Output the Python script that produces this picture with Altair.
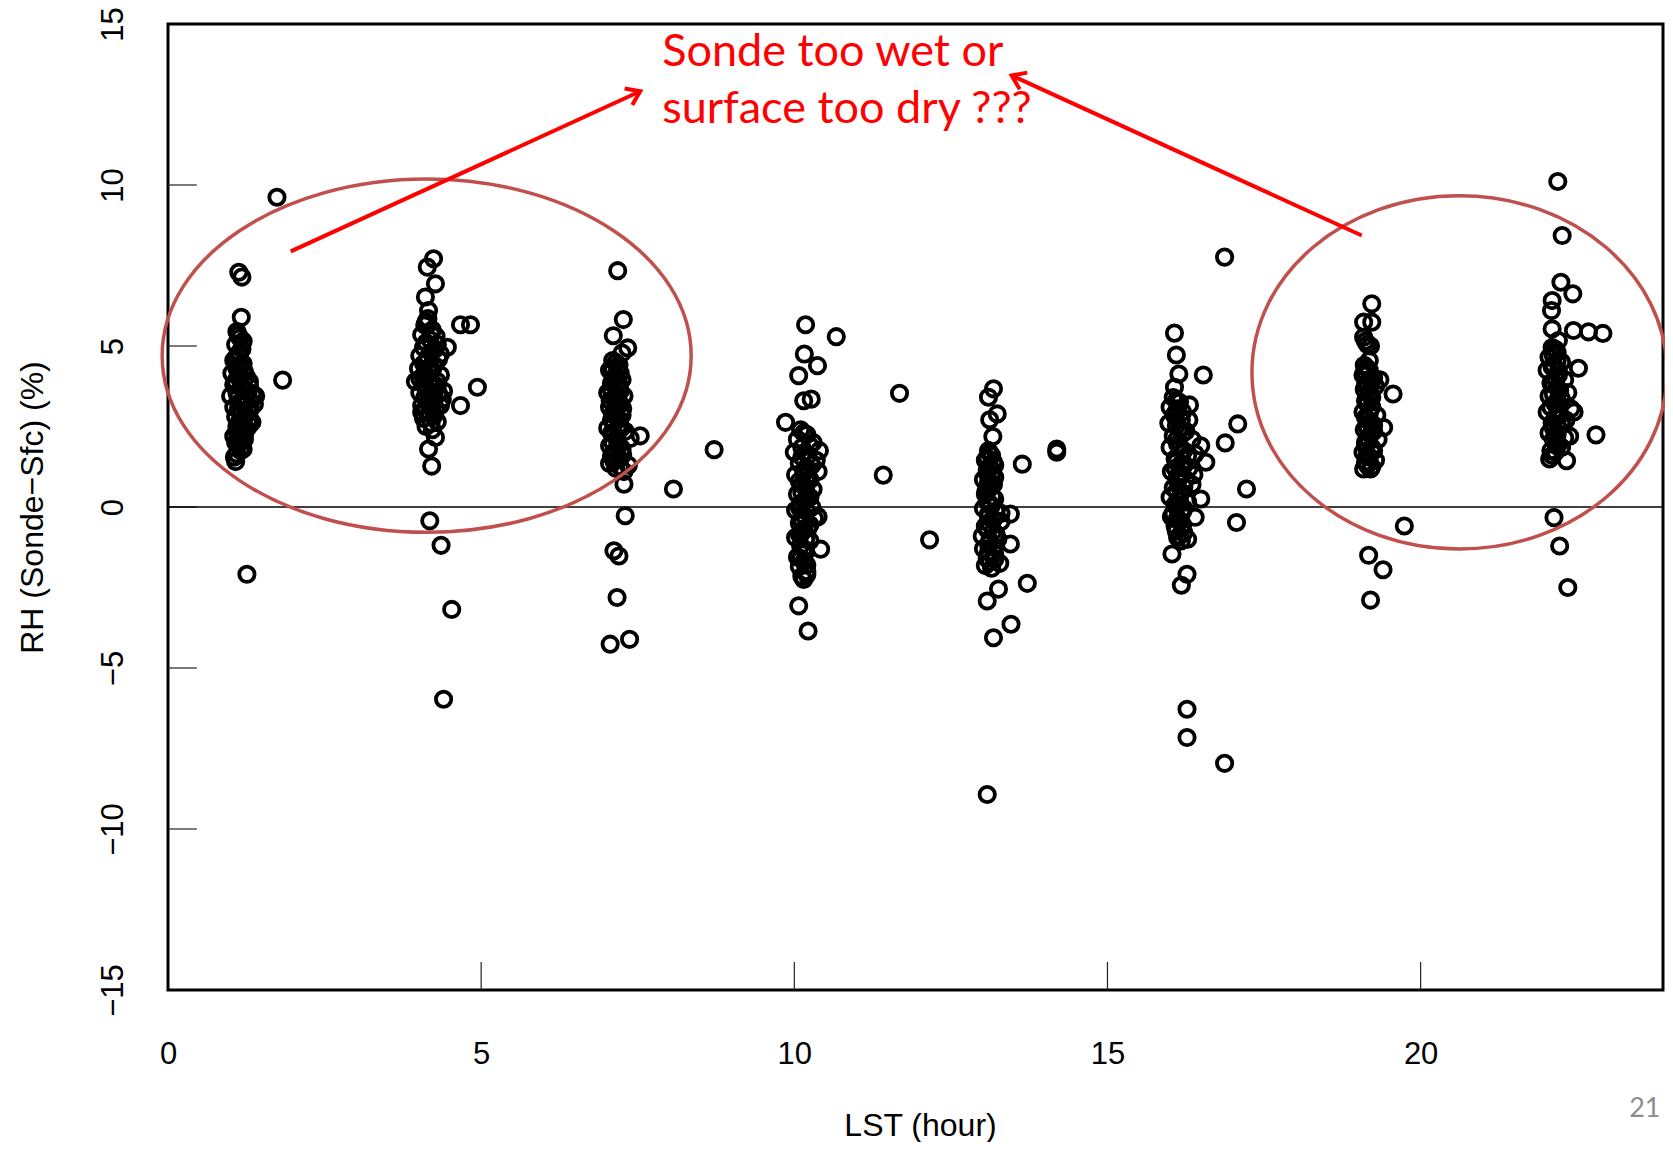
import altair as alt
import pandas as pd

# ---- data: (LST hour, RH Sonde-Sfc %) ----
cluster_01h = [(1.74, 9.62), (1.13, 7.29), (1.18, 7.14), (1.17, 5.89), (1.83, 3.94), (1.34, 2.63),
               (1.08, 1.41), (1.26, -2.09),
               (1.10, 5.45), (1.15, 5.25), (1.08, 5.05), (1.18, 4.90), (1.12, 4.70), (1.05, 4.55),
               (1.20, 4.45), (1.10, 4.30), (1.02, 4.15), (1.25, 4.05), (1.15, 3.95), (1.05, 3.80),
               (1.30, 3.75), (1.20, 3.65), (1.10, 3.55), (1.35, 3.50), (1.00, 3.45), (1.25, 3.35),
               (1.15, 3.25), (1.38, 3.20), (1.05, 3.10), (1.28, 3.00), (1.18, 2.90), (1.08, 2.80),
               (1.30, 2.75), (1.20, 2.60), (1.10, 2.50), (1.25, 2.40), (1.15, 2.30), (1.05, 2.20),
               (1.22, 2.10), (1.12, 1.95), (1.20, 1.80), (1.10, 1.65), (1.30, 3.90), (1.40, 3.45),
               (1.12, 4.10), (1.22, 2.25), (1.32, 3.05),
               (1.12, 5.35), (1.20, 5.15), (1.14, 4.80), (1.08, 4.62), (1.16, 4.38), (1.22, 4.20),
               (1.08, 3.90), (1.18, 3.72), (1.28, 3.58), (1.12, 3.40), (1.22, 3.15), (1.12, 3.02),
               (1.24, 2.85), (1.14, 2.65), (1.18, 2.45), (1.30, 2.55), (1.10, 2.35), (1.16, 2.15),
               (1.08, 2.00), (1.16, 1.75), (1.06, 1.55)]
cluster_04h = [(4.24, 7.71), (4.14, 7.45), (4.27, 6.93), (4.11, 6.52), (4.16, 6.10), (4.67, 5.66),
               (4.83, 5.66), (4.46, 4.96), (4.94, 3.72), (4.67, 3.15), (4.27, 2.16), (4.16, 1.80),
               (4.21, 1.27), (4.18, -0.43), (4.36, -1.19), (4.53, -3.18), (4.40, -5.97),
               (4.15, 5.85), (4.10, 5.65), (4.22, 5.50), (4.05, 5.35), (4.18, 5.20), (4.30, 5.05),
               (4.08, 4.95), (4.20, 4.80), (4.02, 4.70), (4.32, 4.60), (4.12, 4.50), (4.25, 4.40),
               (4.00, 4.30), (4.18, 4.20), (4.35, 4.10), (4.08, 4.00), (3.95, 3.90), (4.22, 3.85),
               (4.30, 3.75), (4.12, 3.65), (4.02, 3.55), (4.25, 3.45), (4.38, 3.35), (4.15, 3.25),
               (4.05, 3.15), (4.28, 3.05), (4.18, 2.90), (4.08, 2.75), (4.30, 2.65), (4.12, 2.50),
               (4.22, 2.40), (4.40, 3.60), (4.35, 4.75), (4.10, 4.15), (4.28, 5.30),
               (4.12, 5.75), (4.20, 5.40), (4.12, 5.10), (4.26, 4.90), (4.15, 4.65), (4.08, 4.45),
               (4.22, 4.25), (4.12, 4.08), (4.02, 3.98), (4.18, 3.95), (4.30, 3.90), (4.10, 3.80),
               (4.20, 3.58), (4.32, 3.52), (4.10, 3.40), (4.22, 3.20), (4.12, 3.00), (4.25, 2.85),
               (4.20, 2.60), (4.05, 2.95), (4.35, 3.15)]
cluster_07h = [(7.18, 7.34), (7.27, 5.82), (7.11, 5.32), (7.34, 4.94), (7.25, 4.78), (7.38, 2.13),
               (7.28, 0.71), (7.30, -0.27), (7.12, -1.36), (7.20, -1.52), (7.17, -2.81), (7.06, -4.26),
               (7.37, -4.11), (8.07, 0.56), (8.72, 1.78), (7.54, 2.21),
               (7.10, 4.55), (7.20, 4.40), (7.05, 4.25), (7.15, 4.10), (7.25, 3.95), (7.08, 3.85),
               (7.18, 3.70), (7.02, 3.55), (7.28, 3.45), (7.12, 3.35), (7.22, 3.20), (7.05, 3.10),
               (7.15, 2.95), (7.25, 2.85), (7.08, 2.70), (7.20, 2.55), (7.02, 2.45), (7.30, 2.35),
               (7.12, 2.25), (7.18, 2.05), (7.05, 1.90), (7.25, 1.80), (7.10, 1.65), (7.20, 1.50),
               (7.05, 1.35), (7.15, 1.20), (7.28, 1.10), (7.35, 1.30), (7.22, 3.60), (7.12, 4.00),
               (7.15, 4.48), (7.10, 4.30), (7.22, 4.15), (7.12, 3.95), (7.20, 3.80), (7.08, 3.62),
               (7.18, 3.48), (7.06, 3.30), (7.16, 3.15), (7.26, 3.05), (7.10, 2.88), (7.20, 2.72),
               (7.12, 2.60), (7.24, 2.45), (7.08, 2.30), (7.16, 2.15), (7.10, 2.00), (7.20, 1.92),
               (7.14, 1.75), (7.08, 1.58), (7.26, 1.62), (7.12, 1.42), (7.22, 1.25)]
cluster_10h = [(10.18, 5.66), (10.67, 5.29), (10.16, 4.75), (10.37, 4.39), (10.07, 4.08), (10.27, 3.35),
               (10.15, 3.30), (9.86, 2.63), (11.68, 3.53), (11.42, 0.99), (12.16, -1.02), (10.42, -1.31),
               (10.07, -3.07), (10.22, -3.85),
               (10.10, 2.40), (10.20, 2.25), (10.05, 2.10), (10.30, 2.00), (10.12, 1.85), (10.00, 1.70),
               (10.22, 1.60), (10.35, 1.45), (10.08, 1.35), (10.18, 1.20), (10.38, 1.10), (10.02, 1.00),
               (10.25, 0.85), (10.12, 0.70), (10.30, 0.55), (10.05, 0.40), (10.20, 0.25), (10.10, 0.10),
               (10.28, 0.00), (10.02, -0.10), (10.15, -0.25), (10.32, -0.35), (10.08, -0.50),
               (10.22, -0.65), (10.12, -0.80), (10.02, -0.95), (10.25, -1.05), (10.10, -1.20),
               (10.18, -1.40), (10.05, -1.55), (10.15, -1.70), (10.08, -1.85), (10.20, -2.00),
               (10.12, -2.15), (10.20, -2.10), (10.38, -0.30), (10.40, 1.75),
               (10.15, 2.30), (10.25, 1.90), (10.12, 1.55), (10.28, 1.30), (10.15, 1.05), (10.20, 0.95),
               (10.08, 0.80), (10.18, 0.60), (10.12, 0.45), (10.25, 0.30), (10.15, 0.18), (10.08, -0.02),
               (10.20, -0.15), (10.12, -0.40), (10.25, -0.55), (10.15, -0.70), (10.08, -0.85),
               (10.18, -1.00), (10.15, -1.30), (10.10, -1.60), (10.20, -1.80), (10.15, -2.25)]
cluster_13h = [(13.18, 3.67), (13.10, 3.41), (13.24, 2.89), (13.12, 2.71), (13.17, 2.19), (13.64, 1.33),
               (14.19, 1.80), (14.19, 1.70), (13.45, -0.22), (13.45, -1.15), (13.72, -2.37),
               (13.26, -2.55), (13.08, -2.92), (13.46, -3.64), (13.18, -4.06), (13.08, -8.93),
               (13.10, 1.75), (13.15, 1.60), (13.05, 1.45), (13.20, 1.30), (13.08, 1.15), (13.15, 1.00),
               (13.02, 0.85), (13.18, 0.70), (13.10, 0.55), (13.05, 0.40), (13.20, 0.25), (13.12, 0.10),
               (13.02, -0.05), (13.22, -0.15), (13.10, -0.30), (13.30, -0.45), (13.05, -0.60),
               (13.18, -0.75), (13.00, -0.90), (13.25, -1.00), (13.10, -1.15), (13.02, -1.30),
               (13.20, -1.45), (13.08, -1.60), (13.28, -1.75), (13.15, -1.90), (13.12, -1.70),
               (13.30, -0.20),
               (13.12, 1.68), (13.08, 1.52), (13.18, 1.40), (13.12, 1.25), (13.08, 1.05), (13.20, 0.92),
               (13.10, 0.78), (13.14, 0.62), (13.06, 0.48), (13.16, 0.32), (13.08, 0.18), (13.14, 0.02),
               (13.10, -0.22), (13.18, -0.38), (13.12, -0.52), (13.08, -0.70), (13.22, -0.85),
               (13.12, -1.05), (13.18, -1.25), (13.10, -1.40), (13.20, -1.62), (13.05, -1.82)]
cluster_16h = [(16.07, 5.40), (16.10, 4.72), (16.14, 4.13), (16.07, 3.72), (16.53, 4.10), (16.31, 3.17),
               (17.08, 2.58), (16.88, 1.99), (17.22, 0.56), (17.06, -0.48), (16.40, -0.32), (16.03, -1.46),
               (16.27, -2.09), (16.18, -2.43), (16.27, -6.28), (16.27, -7.16), (16.87, -7.96),
               (16.87, 7.76), (16.49, 1.90), (16.57, 1.39), (16.49, 0.25),
               (16.05, 3.40), (16.15, 3.25), (16.00, 3.10), (16.20, 2.95), (16.08, 2.80), (16.30, 2.70),
               (15.98, 2.60), (16.15, 2.45), (16.25, 2.35), (16.05, 2.20), (16.35, 2.10), (16.12, 1.95),
               (16.00, 1.85), (16.22, 1.75), (16.40, 1.65), (16.08, 1.50), (16.18, 1.35), (16.30, 1.20),
               (16.02, 1.10), (16.12, 0.95), (16.25, 0.85), (16.35, 0.70), (16.05, 0.60), (16.18, 0.45),
               (16.00, 0.30), (16.28, 0.15), (16.10, 0.00), (16.20, -0.15), (16.02, -0.30),
               (16.15, -0.45), (16.08, -0.60), (16.22, -0.80), (16.12, -0.95), (16.18, -1.05),
               (16.28, -1.00), (16.05, -0.20), (16.38, 1.00),
               (16.10, 3.30), (16.12, 3.05), (16.08, 2.90), (16.18, 2.70), (16.10, 2.52), (16.20, 2.28),
               (16.10, 2.08), (16.15, 1.88), (16.28, 1.60), (16.10, 1.40), (16.22, 1.28), (16.08, 1.20),
               (16.18, 1.02), (16.12, 0.80), (16.22, 0.62), (16.10, 0.48), (16.15, 0.20), (16.08, 0.08),
               (16.22, -0.05), (16.12, -0.35), (16.20, -0.55), (16.10, -0.75), (16.15, -0.90)]
cluster_19h = [(19.22, 6.31), (19.09, 5.74), (19.22, 5.74), (19.09, 5.27), (19.56, 3.51), (19.41, 2.47),
               (19.09, 1.18), (19.20, 1.18), (19.74, -0.59), (19.17, -1.50), (19.40, -1.95), (19.20, -2.89),
               (19.12, 5.15), (19.20, 5.00), (19.10, 4.40), (19.18, 4.25), (19.08, 4.10), (19.25, 4.00),
               (19.15, 3.85), (19.28, 3.75), (19.10, 3.65), (19.20, 3.50), (19.12, 3.30), (19.22, 3.10),
               (19.08, 2.95), (19.30, 2.85), (19.15, 2.70), (19.25, 2.55), (19.10, 2.40), (19.20, 2.25),
               (19.32, 2.10), (19.12, 2.00), (19.22, 1.85), (19.08, 1.70), (19.18, 1.55), (19.28, 1.45),
               (19.15, 1.30), (19.35, 3.95),
               (19.15, 5.05), (19.18, 4.55), (19.14, 4.32), (19.12, 4.18), (19.20, 3.95), (19.12, 3.78),
               (19.18, 3.58), (19.22, 3.40), (19.15, 3.20), (19.18, 2.90), (19.12, 2.78), (19.20, 2.62),
               (19.15, 2.48), (19.25, 2.35), (19.15, 2.15), (19.12, 1.90), (19.25, 1.75), (19.15, 1.62),
               (19.12, 1.40), (19.22, 1.25)]
cluster_22h = [(22.19, 10.11), (22.26, 8.43), (22.24, 6.98), (22.43, 6.62), (22.10, 6.41), (22.09, 6.10),
               (22.10, 5.53), (22.44, 5.48), (22.68, 5.44), (22.91, 5.39), (22.20, 5.17), (22.52, 4.31),
               (22.80, 2.24), (22.06, 1.49), (22.33, 1.44), (22.13, -0.33), (22.22, -1.21), (22.35, -2.50),
               (22.10, 4.95), (22.18, 4.80), (22.05, 4.65), (22.25, 4.50), (22.12, 4.40), (22.02, 4.25),
               (22.20, 4.10), (22.30, 3.95), (22.08, 3.85), (22.18, 3.70), (22.35, 3.55), (22.05, 3.45),
               (22.25, 3.35), (22.15, 3.20), (22.40, 3.05), (22.02, 2.95), (22.22, 2.85), (22.32, 2.70),
               (22.10, 2.60), (22.45, 2.95), (22.20, 2.45), (22.05, 2.30), (22.30, 2.15), (22.15, 2.00),
               (22.25, 1.85), (22.08, 1.75), (22.38, 2.20),
               (22.15, 4.90), (22.12, 4.70), (22.18, 4.55), (22.10, 4.35), (22.20, 4.22), (22.15, 4.00),
               (22.12, 3.80), (22.22, 3.62), (22.12, 3.50), (22.18, 3.30), (22.08, 3.10), (22.20, 3.00),
               (22.15, 2.78), (22.25, 2.60), (22.12, 2.45), (22.18, 2.25), (22.12, 2.10), (22.20, 1.95),
               (22.15, 1.70), (22.10, 1.60)]

x_label_values = [0, 5, 10, 15, 20]
y_label_values = [-15, -10, -5, 0, 5, 10, 15]
x_inner_ticks = [5, 10, 15, 20]
y_inner_ticks = [-10, -5, 0, 5, 10]

# annotations (data units)
ellipse_left = {"hour": [4.13], "rh_diff": [4.70]}
ellipse_right = {"hour": [20.62], "rh_diff": [4.18]}
arrow_start_hour = [1.96, 19.06]
arrow_start_rh = [7.94, 8.43]
arrow_end_hour = [7.54, 13.47]
arrow_end_rh = [12.91, 13.40]
arrow_angle = [335.4, 204.4]
note_lines = ["Sonde too wet or", "surface too dry ???"]
note_hour = [7.89, 7.89]
note_rh = [13.71, 11.91]
slide_number = ["21"]

# ---- build chart ----
W, H = 1495, 966
FONT = "Liberation Sans"
xs = alt.Scale(domain=[0, 23.87], nice=False, zero=False)
ys = alt.Scale(domain=[-15, 15], nice=False, zero=False)

pts = pd.DataFrame(cluster_01h + cluster_04h + cluster_07h + cluster_10h + cluster_13h
                   + cluster_16h + cluster_19h + cluster_22h, columns=["hour", "rh_diff"])

x_axis = alt.Axis(values=x_label_values, title="LST (hour)", grid=False, ticks=False, tickSize=0,
                  domain=False, labelFont=FONT, labelFontSize=31, labelColor="black",
                  labelPadding=73, labelBaseline="alphabetic", labelFlush=False, labelOverlap=False,
                  titleFont=FONT, titleFontSize=32, titleFontWeight="normal", titleColor="black",
                  titleBaseline="alphabetic", titleAlign="center", titleX=752, titleY=145)
y_axis = alt.Axis(values=y_label_values, title="RH (Sonde\u2212Sfc) (%)", grid=False, ticks=False,
                  tickSize=0, domain=False, labelFont=FONT, labelFontSize=31, labelColor="black",
                  labelAngle=270, labelAlign="center", labelBaseline="alphabetic", labelPadding=46,
                  labelFlush=False, labelOverlap=False,
                  titleFont=FONT, titleFontSize=32, titleFontWeight="normal", titleColor="black",
                  titleAngle=270, titleAlign="center", titleBaseline="alphabetic",
                  titleX=-126, titleY=H / 2)


def X(field):
    return alt.X(field, scale=xs, axis=x_axis)


def Y(field):
    return alt.Y(field, scale=ys, axis=y_axis)


point_layer = alt.Chart(pts).mark_point(filled=False, color="black", size=235, strokeWidth=3.8,
                                        opacity=1).encode(x=X("hour:Q"), y=Y("rh_diff:Q"))

xt = pd.DataFrame({"hour": x_inner_ticks, "y0": [-15.0] * 4, "y1": [-14.13] * 4})
xtick_layer = alt.Chart(xt).mark_rule(color="#222222", strokeWidth=1.2).encode(
    x=X("hour:Q"), y=Y("y0:Q"), y2="y1:Q")

yt = pd.DataFrame({"rh_diff": y_inner_ticks, "x0": [0.0] * 5, "x1": [0.46] * 5})
ytick_layer = alt.Chart(yt).mark_rule(color="#222222", strokeWidth=1.2).encode(
    y=Y("rh_diff:Q"), x=X("x0:Q"), x2="x1:Q")

zero_layer = alt.Chart(pd.DataFrame({"rh_diff": [0]})).mark_rule(color="black", strokeWidth=1.3).encode(
    y=Y("rh_diff:Q"))

ell_l = alt.Chart(pd.DataFrame(ellipse_left)).mark_point(
    shape="M -1,0 A 1,0.668 0 1,1 1,0 A 1,0.668 0 1,1 -1,0 Z",
    size=529 ** 2, filled=False, color="#C0504D", strokeWidth=3.5, opacity=1).encode(
    x=X("hour:Q"), y=Y("rh_diff:Q"))
ell_r = alt.Chart(pd.DataFrame(ellipse_right)).mark_point(
    shape="M -1,0 A 1,0.851 0 1,1 1,0 A 1,0.851 0 1,1 -1,0 Z",
    size=415 ** 2, filled=False, color="#C0504D", strokeWidth=3.5, opacity=1).encode(
    x=X("hour:Q"), y=Y("rh_diff:Q"))

arrows = pd.DataFrame({"hour": arrow_start_hour, "rh_diff": arrow_start_rh,
                       "hour_end": arrow_end_hour, "rh_end": arrow_end_rh, "angle": arrow_angle})
shaft_layer = alt.Chart(arrows).mark_rule(color="#FF0000", strokeWidth=4).encode(
    x=X("hour:Q"), y=Y("rh_diff:Q"), x2="hour_end:Q", y2="rh_end:Q")
head_layer = alt.Chart(arrows).mark_point(shape="M -1,-0.7 L 0,0 L -1,0.7", filled=False,
                                          color="#FF0000", strokeWidth=4, size=676, opacity=1,
                                          strokeJoin="miter").encode(
    x=X("hour_end:Q"), y=Y("rh_end:Q"), angle=alt.Angle("angle:Q", scale=None))

notes = pd.DataFrame({"hour": note_hour, "rh_diff": note_rh, "text": note_lines})
note_layer = alt.Chart(notes).mark_text(align="left", baseline="alphabetic", font="Lato",
                                        fontSize=45, color="#FF0000").encode(
    x=X("hour:Q"), y=Y("rh_diff:Q"), text="text:N")

page = pd.DataFrame({"hour": [23.33], "rh_diff": [-18.94], "text": slide_number})
page_layer = alt.Chart(page).mark_text(align="left", baseline="alphabetic", font="Lato",
                                       fontSize=27, color="#8C8C8C").encode(
    x=X("hour:Q"), y=Y("rh_diff:Q"), text="text:N")

chart = alt.layer(
    point_layer, xtick_layer, ytick_layer, zero_layer, ell_l, ell_r,
    shaft_layer, head_layer, note_layer, page_layer
).properties(
    width=W, height=H,
    autosize=alt.AutoSizeParams(type="none"),
    padding={"left": 160, "top": 16, "right": 2, "bottom": 152},
    background="white",
).configure_view(stroke="black", strokeWidth=3)

chart.save("out.html", embed_options={"renderer": "svg", "actions": False})
